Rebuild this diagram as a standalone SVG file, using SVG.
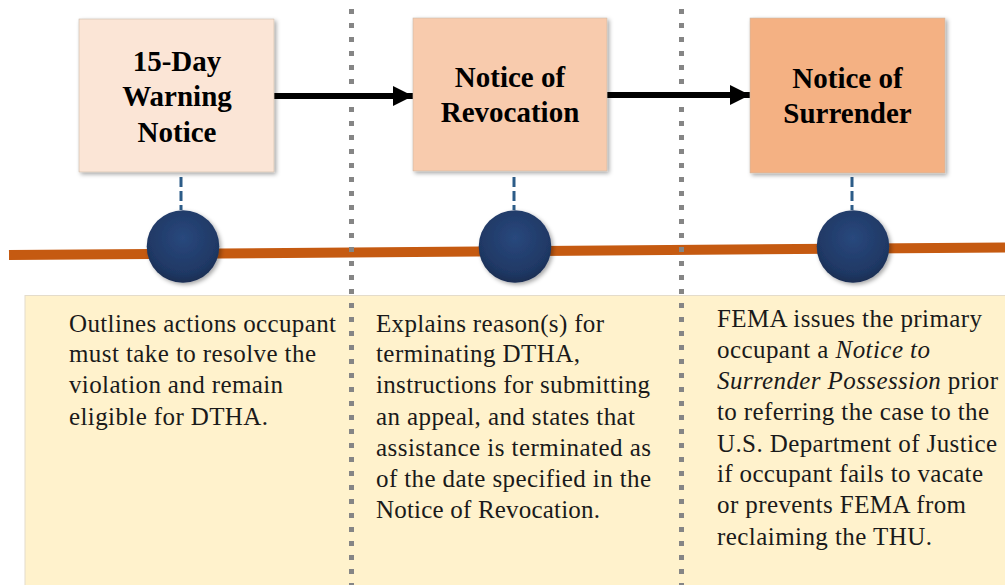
<svg xmlns="http://www.w3.org/2000/svg" width="1005" height="585" viewBox="0 0 1005 585">
<style>
.box{stroke:#c9b8a8;stroke-width:0.6}
.title{font-family:"Liberation Serif","Times New Roman",serif;font-weight:bold;font-size:29px;fill:#000;text-anchor:middle}
.body{font-family:"Liberation Serif","Times New Roman",serif;font-size:25px;fill:#1a1a1a}
.it{font-style:italic}
.sep{stroke:#858585;stroke-width:5;stroke-dasharray:5 9;fill:none}
.stem{stroke:#2c5c88;stroke-width:3;stroke-dasharray:10 4;fill:none}
.arrow{stroke:#000;stroke-width:6;fill:none}
</style>
<defs>
<filter id="sh" x="-10%" y="-10%" width="125%" height="125%">
<feDropShadow dx="2" dy="2" stdDeviation="2" flood-color="#000" flood-opacity="0.35"/>
</filter>
<radialGradient id="ball" cx="50%" cy="38%" r="62%">
<stop offset="0" stop-color="#29487d"/>
<stop offset="0.8" stop-color="#1f3864"/>
<stop offset="1" stop-color="#192d52"/>
</radialGradient>
<marker id="ah" markerWidth="20" markerHeight="20" refX="20" refY="10" markerUnits="userSpaceOnUse" orient="auto">
<path d="M0,0 L20,10 L0,20 Z" fill="#000"/>
</marker>
</defs>
<rect width="1005" height="585" fill="#fff"/>
<g id="panel">
<rect x="25" y="295.5" width="985" height="295" fill="#fff2cc" stroke="#e4dccb" stroke-width="1"/>
</g>
<g id="timeline">
<line x1="9" y1="255" x2="1005" y2="247.5" stroke="#c55a11" stroke-width="10"/>
</g>
<g id="separators">
<line class="sep" x1="351.5" y1="9" x2="351.5" y2="585"/>
<line class="sep" x1="681.5" y1="9" x2="681.5" y2="585"/>
</g>
<g id="connectors">
<line class="arrow" x1="274" y1="96" x2="413" y2="96" marker-end="url(#ah)"/>
<line class="arrow" x1="607" y1="95" x2="750" y2="95" marker-end="url(#ah)"/>
<line class="stem" x1="181" y1="177" x2="181" y2="210"/>
<line class="stem" x1="514" y1="177" x2="514" y2="210"/>
<line class="stem" x1="852" y1="177" x2="852" y2="210"/>
</g>
<g id="node1">
<rect class="box" x="79" y="19" width="195" height="153" fill="#fbe5d6" filter="url(#sh)"/>
<text class="title" x="177" y="71">15-Day</text>
<text class="title" x="177" y="106">Warning</text>
<text class="title" x="177" y="141.5">Notice</text>
</g>
<g id="node2">
<rect class="box" x="413" y="18" width="194" height="153" fill="#f8cbad" filter="url(#sh)"/>
<text class="title" x="510" y="87">Notice of</text>
<text class="title" x="510" y="122">Revocation</text>
</g>
<g id="node3">
<rect class="box" x="750" y="18" width="195" height="155" fill="#f4b183" filter="url(#sh)"/>
<text class="title" x="847.5" y="88">Notice of</text>
<text class="title" x="847.5" y="123">Surrender</text>
</g>
<g id="marker1"><circle cx="183" cy="246.5" r="36.3" fill="url(#ball)" filter="url(#sh)"/></g>
<g id="marker2"><circle cx="515" cy="246.5" r="36.3" fill="url(#ball)" filter="url(#sh)"/></g>
<g id="marker3"><circle cx="853" cy="246.5" r="36.3" fill="url(#ball)" filter="url(#sh)"/></g>
<g id="desc1" class="body">
<text x="69" y="331.5" textLength="267" lengthAdjust="spacing">Outlines actions occupant</text>
<text x="69" y="362" textLength="247" lengthAdjust="spacing">must take to resolve the</text>
<text x="69" y="393" textLength="214" lengthAdjust="spacing">violation and remain</text>
<text x="69" y="424.5" textLength="199" lengthAdjust="spacing">eligible for DTHA.</text>
</g>
<g id="desc2" class="body">
<text x="376" y="332" textLength="228" lengthAdjust="spacing">Explains reason(s) for</text>
<text x="376" y="362" textLength="204" lengthAdjust="spacing">terminating DTHA,</text>
<text x="376" y="393" textLength="274" lengthAdjust="spacing">instructions for submitting</text>
<text x="376" y="424.5" textLength="259" lengthAdjust="spacing">an appeal, and states that</text>
<text x="376" y="455.5" textLength="275" lengthAdjust="spacing">assistance is terminated as</text>
<text x="376" y="486.5" textLength="275" lengthAdjust="spacing">of the date specified in the</text>
<text x="376" y="518" textLength="224" lengthAdjust="spacing">Notice of Revocation.</text>
</g>
<g id="desc3" class="body">
<text x="717" y="327" textLength="265" lengthAdjust="spacing">FEMA issues the primary</text>
<text x="717" y="358" textLength="213" lengthAdjust="spacing">occupant a <tspan class="it">Notice to</tspan></text>
<text x="717" y="389" textLength="281" lengthAdjust="spacing"><tspan class="it">Surrender Possession</tspan> prior</text>
<text x="717" y="420" textLength="272" lengthAdjust="spacing">to referring the case to the</text>
<text x="717" y="451.5" textLength="280" lengthAdjust="spacing">U.S. Department of Justice</text>
<text x="717" y="482" textLength="266" lengthAdjust="spacing">if occupant fails to vacate</text>
<text x="717" y="513" textLength="249" lengthAdjust="spacing">or prevents FEMA from</text>
<text x="717" y="545" textLength="215" lengthAdjust="spacing">reclaiming the THU.</text>
</g>
</svg>
